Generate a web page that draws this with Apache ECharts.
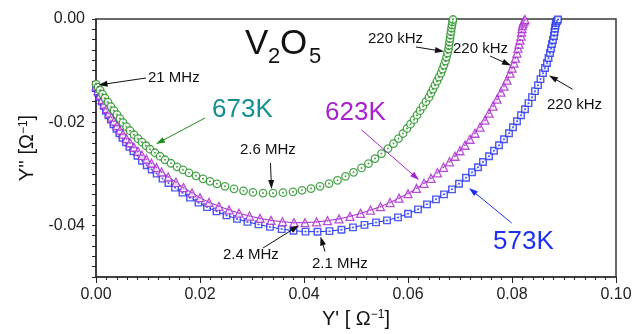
<!DOCTYPE html>
<html>
<head>
<meta charset="utf-8">
<title>V2O5 admittance plot</title>
<script src="https://cdn.jsdelivr.net/npm/echarts@6/dist/echarts.min.js"></script>
<style>
html, body { margin: 0; padding: 0; background: #fff; }
#chart { width: 636px; height: 334px; }
</style>
</head>
<body>
<div id="chart"></div>
<script>
// 673K (circles)
var x673 = [0, 0.00038, 0.00077, 0.00125, 0.00173, 0.00231, 0.00288, 0.00346, 0.00404, 0.00462,
  0.00519, 0.00587, 0.00654, 0.00731, 0.00808, 0.00885, 0.00962, 0.01038, 0.01135, 0.01231,
  0.01327, 0.01442, 0.01558, 0.01673, 0.01788, 0.01923, 0.02058, 0.02192, 0.02327, 0.02481,
  0.02654, 0.02837, 0.03019, 0.03212, 0.03404, 0.03596, 0.03788, 0.03962, 0.04135, 0.04308,
  0.04481, 0.04644, 0.04798, 0.04952, 0.05106, 0.05240, 0.05365, 0.05490, 0.05615, 0.05721,
  0.05817, 0.05904, 0.05981, 0.06048, 0.06115, 0.06173, 0.06231, 0.06288, 0.06346, 0.06404,
  0.06442, 0.06481, 0.06519, 0.06558, 0.06596, 0.06635, 0.06663, 0.06692, 0.06721, 0.06740,
  0.06760, 0.06779, 0.06788, 0.06798, 0.06808, 0.06817, 0.06827, 0.06837, 0.06846, 0.06856, 0.06865];
var y673 = [-0.01262, -0.01320, -0.01379, -0.01456, -0.01534, -0.01612, -0.01699, -0.01777, -0.01854, -0.01932,
  -0.02010, -0.02087, -0.02165, -0.02243, -0.02320, -0.02388, -0.02456, -0.02524, -0.02592, -0.02660,
  -0.02728, -0.02796, -0.02864, -0.02922, -0.02981, -0.03039, -0.03097, -0.03146, -0.03194, -0.03243,
  -0.03291, -0.03330, -0.03359, -0.03373, -0.03373, -0.03365, -0.03350, -0.03320, -0.03287, -0.03243,
  -0.03190, -0.03126, -0.03049, -0.02971, -0.02887, -0.02802, -0.02705, -0.02608, -0.02511, -0.02414,
  -0.02317, -0.02219, -0.02122, -0.02039, -0.01951, -0.01864, -0.01777, -0.01689, -0.01602, -0.01515,
  -0.01437, -0.01359, -0.01282, -0.01204, -0.01126, -0.01049, -0.00971, -0.00893, -0.00816, -0.00738,
  -0.00660, -0.00583, -0.00515, -0.00447, -0.00379, -0.00311, -0.00243, -0.00175, -0.00117, -0.00058, -0.0001];

// 623K (triangles)
var x623 = [0, 0.00038, 0.00077, 0.00115, 0.00154, 0.00202, 0.00250, 0.00298, 0.00346, 0.00404,
  0.00462, 0.00519, 0.00587, 0.00654, 0.00731, 0.00808, 0.00885, 0.00971, 0.01067, 0.01163,
  0.01263, 0.01390, 0.01538, 0.01683, 0.01846, 0.02000, 0.02173, 0.02365, 0.02558, 0.02750,
  0.02952, 0.03154, 0.03365, 0.03587, 0.03808, 0.04019, 0.04240, 0.04452, 0.04673, 0.04885,
  0.05087, 0.05279, 0.05471, 0.05654, 0.05827, 0.06000, 0.06163, 0.06308, 0.06442, 0.06567,
  0.06683, 0.06798, 0.06904, 0.07000, 0.07096, 0.07192, 0.07288, 0.07385, 0.07481, 0.07558,
  0.07635, 0.07712, 0.07788, 0.07846, 0.07904, 0.07962, 0.08000, 0.08038, 0.08067, 0.08096,
  0.08115, 0.08135, 0.08154, 0.08173, 0.08183, 0.08192, 0.08202, 0.08212, 0.08231, 0.08250];
var y623 = [-0.01301, -0.01388, -0.01476, -0.01563, -0.01650, -0.01738, -0.01825, -0.01903, -0.01981, -0.02068,
  -0.02155, -0.02233, -0.02320, -0.02398, -0.02485, -0.02563, -0.02641, -0.02718, -0.02796, -0.02880,
  -0.02965, -0.03062, -0.03165, -0.03268, -0.03369, -0.03462, -0.03553, -0.03631, -0.03699, -0.03763,
  -0.03819, -0.03864, -0.03903, -0.03928, -0.03948, -0.03948, -0.03932, -0.03909, -0.03874, -0.03825,
  -0.03767, -0.03703, -0.03637, -0.03557, -0.03472, -0.03384, -0.03282, -0.03184, -0.03087, -0.02981,
  -0.02874, -0.02767, -0.02660, -0.02553, -0.02447, -0.02330, -0.02214, -0.02097, -0.01961, -0.01825,
  -0.01689, -0.01553, -0.01417, -0.01301, -0.01184, -0.01049, -0.00951, -0.00854, -0.00757, -0.00660,
  -0.00563, -0.00485, -0.00408, -0.00330, -0.00252, -0.00184, -0.00126, -0.00078, -0.00039, -0.0001];

// 573K (squares)
var x573 = [0, 0.00038, 0.00077, 0.00115, 0.00154, 0.00192, 0.00240, 0.00288, 0.00337, 0.00394,
  0.00452, 0.00510, 0.00577, 0.00644, 0.00721, 0.00798, 0.00885, 0.00975, 0.01071, 0.01167,
  0.01279, 0.01394, 0.01519, 0.01663, 0.01808, 0.01971, 0.02135, 0.02317, 0.02510, 0.02712,
  0.02913, 0.03125, 0.03346, 0.03571, 0.03798, 0.04029, 0.04260, 0.04490, 0.04721, 0.04942,
  0.05163, 0.05385, 0.05596, 0.05808, 0.06000, 0.06192, 0.06365, 0.06538, 0.06692, 0.06846,
  0.06981, 0.07115, 0.07231, 0.07346, 0.07442, 0.07558, 0.07654, 0.07750, 0.07846, 0.07942,
  0.08019, 0.08096, 0.08173, 0.08250, 0.08317, 0.08385, 0.08442, 0.08500, 0.08548, 0.08596,
  0.08635, 0.08673, 0.08702, 0.08731, 0.08750, 0.08769, 0.08788, 0.08808, 0.08817, 0.08827,
  0.08837, 0.08846, 0.08865, 0.08885];
var y573 = [-0.01340, -0.01427, -0.01515, -0.01602, -0.01689, -0.01777, -0.01864, -0.01951, -0.02039, -0.02126,
  -0.02214, -0.02301, -0.02388, -0.02476, -0.02563, -0.02650, -0.02748, -0.02835, -0.02918, -0.02996,
  -0.03093, -0.03179, -0.03268, -0.03365, -0.03462, -0.03559, -0.03645, -0.03728, -0.03806, -0.03874,
  -0.03932, -0.03981, -0.04029, -0.04072, -0.04103, -0.04120, -0.04122, -0.04111, -0.04083, -0.04039,
  -0.03990, -0.03942, -0.03903, -0.03845, -0.03773, -0.03689, -0.03592, -0.03495, -0.03398, -0.03301,
  -0.03194, -0.03078, -0.02971, -0.02874, -0.02771, -0.02660, -0.02553, -0.02447, -0.02330, -0.02214,
  -0.02097, -0.01981, -0.01864, -0.01748, -0.01631, -0.01515, -0.01398, -0.01282, -0.01165, -0.01049,
  -0.00951, -0.00854, -0.00757, -0.00660, -0.00573, -0.00485, -0.00408, -0.00330, -0.00252, -0.00184,
  -0.00126, -0.00078, -0.00039, -0.0001];

var green = '#1f8f1f', purple = '#a624cc', blue = '#1f2ff0', teal = '#168f8f';
var font = 'Liberation Sans, Arial, sans-serif';

// annotation texts: [text, left, centerY, size, color]
var notes = [
  ['21 MHz', 148, 77.5, 15, '#111'],
  ['2.6 MHz', 240, 150, 15, '#111'],
  ['2.4 MHz', 223, 255, 15, '#111'],
  ['2.1 MHz', 312, 263.5, 15, '#111'],
  ['220 kHz', 368, 38.5, 15, '#111'],
  ['220 kHz', 453, 48.5, 15, '#111'],
  ['220 kHz', 547, 105, 15, '#111'],
  ['673K', 212, 110, 26, teal],
  ['623K', 325, 112.5, 26, purple],
  ['573K', 493, 242, 26, blue],
  ['V', 245, 44.5, 35, '#111'],
  ['2', 268, 57, 22, '#111'],
  ['O', 280, 44.5, 35, '#111'],
  ['5', 309, 57, 22, '#111']
];
// arrows: [fromX, fromY, toX, toY, color]
var arrows = [
  [146, 78, 98.5, 85, '#111'],
  [205, 118, 156, 144, green],
  [270.5, 163, 271.5, 189, '#111'],
  [361.7, 130, 419, 180, purple],
  [511.7, 223, 469, 188, blue],
  [263, 248, 299, 225.5, '#111'],
  [325, 251.5, 320.5, 236.5, '#111'],
  [416, 47, 444, 51.5, '#111'],
  [490, 56, 511, 65.5, '#111'],
  [572.7, 89.3, 549, 75.5, '#111']
];

function pairs(xs, ys) {
  return xs.map(function (x, i) { return [x, ys[i]]; });
}

var d673 = pairs(x673, y673), d623 = pairs(x623, y623), d573 = pairs(x573, y573);

var chart = echarts.init(document.getElementById('chart'));
chart.setOption({
  animation: false,
  backgroundColor: '#fff',
  textStyle: { fontFamily: font },
  grid: { left: 96, right: 20, top: 19, bottom: 57, show: true, borderColor: '#3a3a3a', borderWidth: 1.5, backgroundColor: 'transparent' },
  xAxis: {
    type: 'value', min: 0, max: 0.1, interval: 0.02,
    name: "Y' [ Ω{s|−1}]", nameLocation: 'middle', nameGap: 32,
    nameTextStyle: { fontSize: 20, color: '#111', fontFamily: font,
      rich: { s: { fontSize: 12, verticalAlign: 'top', color: '#111', fontFamily: font } } },
    axisLine: { show: true, onZero: false, lineStyle: { color: '#333', width: 1.5 } },
    axisTick: { show: true, length: 6, lineStyle: { color: '#222', width: 1 } },
    minorTick: { show: true, splitNumber: 10, length: 3, lineStyle: { color: '#222', width: 1 } },
    axisLabel: { fontSize: 16, color: '#222', margin: 10, formatter: function (v) { return v.toFixed(2); } },
    splitLine: { show: false }
  },
  yAxis: {
    type: 'value', min: -0.05, max: 0, interval: 0.002,
    name: "Y'' [Ω{s|−1}]", nameLocation: 'middle', nameGap: 58,
    nameTextStyle: { fontSize: 20, color: '#111', fontFamily: font,
      rich: { s: { fontSize: 12, verticalAlign: 'top', color: '#111', fontFamily: font } } },
    axisLine: { show: true, onZero: false, lineStyle: { color: '#333', width: 1.5 } },
    axisTick: { show: true, length: 4, lineStyle: { color: '#222', width: 1 } },
    axisLabel: {
      fontSize: 16, color: '#222', margin: 11,
      formatter: function (v) {
        var k = v * 50;
        return Math.abs(k - Math.round(k)) < 1e-6 ? v.toFixed(2) : '';
      }
    },
    splitLine: { show: false }
  },
  // no z on the series: later series simply draw on top
  series: [{
    name: '573K', type: 'scatter', data: d573,
    symbol: 'rect', symbolSize: 6.5,
    itemStyle: { color: '#fff', borderColor: blue, borderWidth: 1.4 }
  }, {
    type: 'scatter', data: d573, symbolSize: 2, itemStyle: { color: blue }
  }, {
    name: '623K', type: 'scatter', data: d623,
    symbol: 'triangle', symbolSize: 8,
    itemStyle: { color: '#fff', borderColor: purple, borderWidth: 1.3 }
  }, {
    type: 'scatter', data: d623, symbolSize: 2, itemStyle: { color: purple }
  }, {
    name: '673K', type: 'scatter', data: d673,
    symbol: 'circle', symbolSize: 7.5,
    itemStyle: { color: '#fff', borderColor: green, borderWidth: 1.3 }
  }, {
    type: 'scatter', data: d673, symbolSize: 2, itemStyle: { color: green }
  }]
});

// connecting lines, placed through the chart's own axes
function toPx(d) {
  return d.map(function (p) { return chart.convertToPixel({ gridIndex: 0 }, p); });
}

function arrowShapes(a) {
  var x1 = a[0], y1 = a[1], x2 = a[2], y2 = a[3], c = a[4];
  var dx = x2 - x1, dy = y2 - y1, len = Math.sqrt(dx * dx + dy * dy);
  var ux = dx / len, uy = dy / len, hl = 9, hw = 3;
  var bx = x2 - ux * hl, by = y2 - uy * hl;
  return [
    { type: 'line', z: 90, silent: true,
      shape: { x1: x1, y1: y1, x2: bx + ux * 2, y2: by + uy * 2 },
      style: { stroke: c, lineWidth: 1 } },
    { type: 'polygon', z: 91, silent: true,
      shape: { points: [[x2, y2], [bx - uy * hw, by + ux * hw], [bx + uy * hw, by - ux * hw]] },
      style: { fill: c } }
  ];
}

var gfx = [
  { type: 'polyline', z: 1, silent: true, shape: { points: toPx(d573) }, style: { stroke: blue, lineWidth: 1, fill: null } },
  { type: 'polyline', z: 1, silent: true, shape: { points: toPx(d623) }, style: { stroke: purple, lineWidth: 1, fill: null } }
];
arrows.forEach(function (a) { gfx = gfx.concat(arrowShapes(a)); });
notes.forEach(function (n) {
  gfx.push({
    type: 'text', x: n[1], y: n[2], z: 100, silent: true,
    style: { text: n[0], fontSize: n[3], fontFamily: font, fill: n[4], verticalAlign: 'middle', align: 'left' }
  });
});
chart.setOption({ graphic: gfx });
</script>
</body>
</html>
